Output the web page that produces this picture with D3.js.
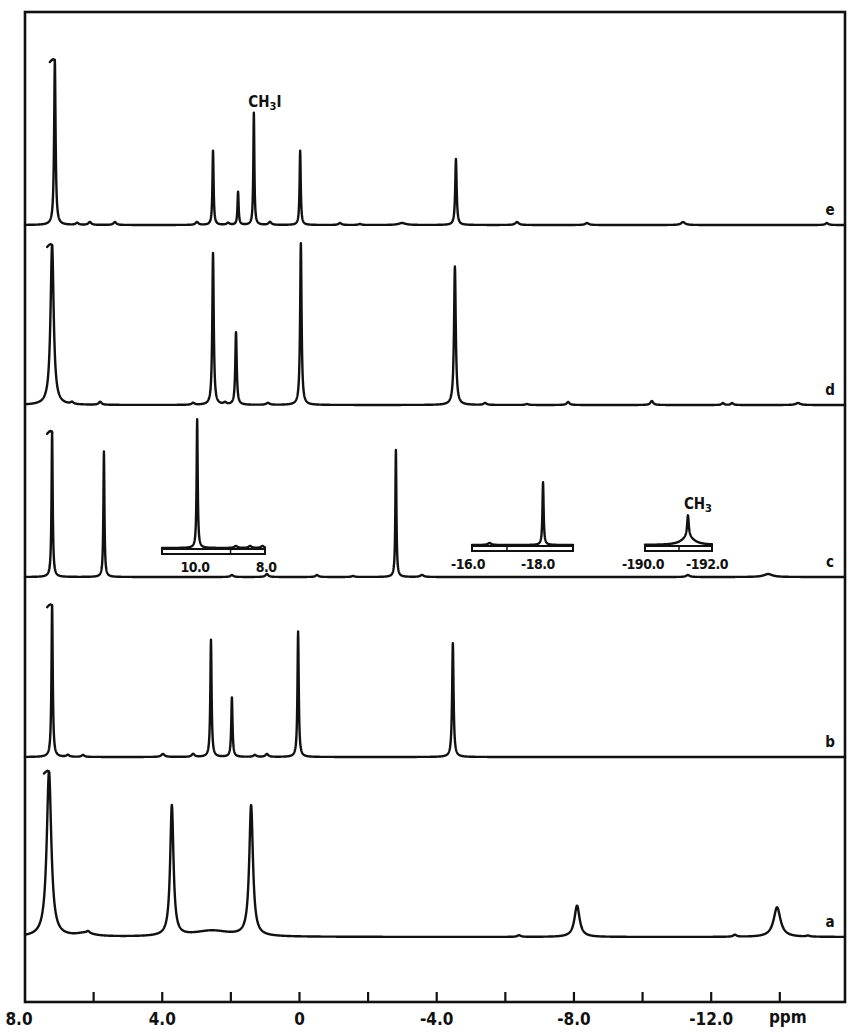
<!DOCTYPE html>
<html>
<head>
<meta charset="utf-8">
<title>NMR spectra a-e</title>
<script src="https://d3js.org/d3.v7.min.js"></script>
<style>
  body { margin: 0; background: #fff; }
  svg { display: block; }
  .trace { fill: none; stroke: #111; stroke-width: 2.4px; stroke-linejoin: round; stroke-linecap: round; }
  .frame { fill: none; stroke: #111; stroke-width: 2.6px; }
  .tick { stroke: #111; stroke-width: 2.2px; }
  .inset-box { fill: #fff; stroke: #111; stroke-width: 2px; }
  .lbl { font-family: "DejaVu Sans Condensed", "DejaVu Sans", sans-serif; font-weight: bold; fill: #111; }
</style>
</head>
<body>
<div id="chart"></div>
<script>
// peaks: [shift (ppm), relative height, half width (ppm), off-scale?]
const traceNames = ["e", "d", "c", "b", "a"];

const peaksE = [
  [7.13, 100, 0.025, 1], [2.52, 45, 0.02], [1.79, 20, 0.02], [1.33, 68, 0.018],
  [-0.02, 45, 0.02], [-4.56, 40, 0.025],
  [6.48, 1.2, 0.05], [6.11, 1.8, 0.05], [5.38, 1.8, 0.05], [2.99, 1.8, 0.05], [2.08, 1.2, 0.05],
  [0.86, 1.8, 0.05], [-1.18, 1.2, 0.05], [-1.76, 0.6, 0.05], [-2.99, 1.2, 0.12], [-6.34, 1.8, 0.06],
  [-8.38, 1.2, 0.06], [-11.18, 1.8, 0.07], [-15.37, 1.2, 0.05]
];
const peaksD = [
  [7.21, 97, 0.055, 1], [2.52, 92, 0.025], [1.85, 44, 0.025], [-0.04, 98, 0.025], [-4.53, 84, 0.03],
  [6.63, 1.2, 0.05], [5.81, 1.8, 0.05], [3.10, 1.2, 0.05], [2.17, 1.2, 0.05], [0.92, 1.2, 0.06],
  [-5.41, 1.2, 0.05], [-6.63, 0.6, 0.05], [-7.83, 1.8, 0.05], [-10.27, 2.4, 0.05], [-12.34, 1.2, 0.04],
  [-12.61, 1.2, 0.04], [-14.53, 1.2, 0.08]
];
const peaksC = [
  [7.21, 88, 0.02, 1], [5.70, 76, 0.018], [-2.81, 77, 0.018],
  [1.97, 1.2, 0.05], [0.95, 1.8, 0.05], [-0.51, 1.2, 0.05], [-1.56, 0.6, 0.05], [-3.57, 1.2, 0.06],
  [-11.32, 1.2, 0.06], [-13.66, 1.8, 0.15]
];
const peaksB = [
  [7.21, 92, 0.022, 1], [2.58, 71, 0.022], [1.97, 36, 0.022], [0.04, 76, 0.022], [-4.47, 69, 0.025],
  [6.75, 1.2, 0.05], [6.31, 1.2, 0.05], [3.98, 1.8, 0.06], [3.10, 1.8, 0.05], [1.30, 1.2, 0.05],
  [0.95, 1.8, 0.05]
];
const peaksA = [
  [7.30, 100, 0.08, 1], [3.72, 79, 0.058], [1.41, 79, 0.065], [-8.09, 19, 0.09], [-13.92, 18, 0.12],
  [6.25, 2.0, 0.3], [6.16, 1.2, 0.05], [2.55, 3.6, 0.65], [-6.4, 1.0, 0.06], [-12.69, 1.2, 0.06],
  [-14.82, 0.6, 0.06]
];
const tracePeaks = [peaksE, peaksD, peaksC, peaksB, peaksA];

// insets on trace c
const insetDomains = [[10.93, 8.03], [-16.0, -18.886], [-189.94, -192.03]];
const insetPeaks = [
  [[9.94, 78, 0.018], [8.85, 1.2, 0.05], [8.45, 1.2, 0.05], [8.1, 1.2, 0.05]],
  [[-18.03, 38, 0.02], [-16.5, 1.2, 0.06]],
  [[-191.28, 13, 0.03], [-191.28, 5, 0.22]]
];
const insetDividers = [9.0, -17.0, -191.0];
const insetTicks = [[[10, "10.0"], [8, "8.0"]], [[-16, "-16.0"], [-18, "-18.0"]], [[-190, "-190.0"], [-192, "-192.0"]]];
const insetNotes = [null, null, [-191.28, "CH", "3", ""]];

const peakNotes = [[0, 1.33, "CH", "3", "I"]];   // trace index, shift, label parts

const axisTicks = [6, 4, 2, 0, -2, -4, -6, -8, -10, -12, -14];
const axisLabels = [[8, "8.0"], [4, "4.0"], [0, "0"], [-4, "-4.0"], [-8, "-8.0"], [-12, "-12.0"]];
const axisUnit = "ppm";

// ---- layout ----
const W = 850, H = 1032;
const frame = { left: 25, right: 845, top: 12, bottom: 1002 };
const baseY = [225, 405, 577, 757, 937];
const insetBox = [[162, 265, 549], [472, 573, 546], [645, 712, 546]];

const x = d3.scaleLinear().domain([8.0, -15.9]).range([frame.left, frame.right]);
const amp = d3.scaleLinear().domain([0, 100]).range([0, 165]);

function intensity(peaks, v) {
  let y = 0;
  for (const [c, h, w] of peaks) y += h * w * w / ((v - c) * (v - c) + w * w);
  return y;
}

function spectrum(peaks, domain, step) {
  const [a, b] = domain;
  const vals = d3.range(a, b, -step).concat(peaks.map(p => p[0]).filter(v => v <= a && v >= b), [b]);
  vals.sort((p, q) => q - p);
  return vals.map(v => [v, intensity(peaks, v)]);
}

const svg = d3.select("#chart").append("svg")
  .attr("width", W).attr("height", H);

svg.append("rect").attr("class", "frame")
  .attr("x", frame.left).attr("y", frame.top)
  .attr("width", frame.right - frame.left).attr("height", frame.bottom - frame.top);

// ticks pointing up from the bottom edge
svg.selectAll(".tick").data(axisTicks).join("line")
  .attr("class", "tick")
  .attr("x1", d => x(d)).attr("x2", d => x(d))
  .attr("y1", frame.bottom).attr("y2", frame.bottom - 10);

svg.selectAll(".axlbl").data(axisLabels).join("text")
  .attr("class", "lbl axlbl")
  .attr("x", d => d[0] === 8 ? x(d[0]) - 6 : x(d[0]))
  .attr("y", frame.bottom + 23)
  .attr("text-anchor", "middle")
  .style("font-size", "17px")
  .text(d => d[1]);

svg.append("text").attr("class", "lbl")
  .attr("x", x(-14) + 8).attr("y", frame.bottom + 21)
  .attr("text-anchor", "middle")
  .style("font-size", "17px")
  .text(axisUnit);

// traces
tracePeaks.forEach((peaks, i) => {
  const line = d3.line().x(d => x(d[0])).y(d => baseY[i] - amp(d[1]));
  svg.append("path").attr("class", "trace").attr("d", line(spectrum(peaks, x.domain(), 0.005)));

  // little pen hook on top of the off-scale solvent line
  peaks.filter(p => p[3]).forEach(p => {
    const px = x(p[0]), py = baseY[i] - amp(intensity(peaks, p[0]));
    svg.append("path").attr("class", "trace")
      .attr("d", `M${px},${py + 1} Q${px - 1},${py - 3} ${px - 5},${py + 2}`);
  });

  svg.append("text").attr("class", "lbl")
    .attr("x", 830).attr("y", baseY[i] - 10)
    .attr("text-anchor", "middle")
    .style("font-size", "15px")
    .text(traceNames[i]);
});

function chemLabel(cx, cy, parts, size) {
  const t = svg.append("text").attr("class", "lbl")
    .attr("x", cx).attr("y", cy).attr("text-anchor", "middle")
    .style("font-size", size + "px");
  t.append("tspan").text(parts[0]);
  t.append("tspan").attr("dy", 3).style("font-size", (size - 4) + "px").text(parts[1]);
  if (parts[2]) t.append("tspan").attr("dy", -3).text(parts[2]);
}

peakNotes.forEach(([ti, v, a, b, c]) => {
  const top = intensity(tracePeaks[ti], v);
  chemLabel(x(v) + 11, baseY[ti] - amp(top) - 6, [a, b, c], 15);
});

// insets over trace c
insetDomains.forEach((dom, k) => {
  const [x0, x1, yTop] = insetBox[k];
  const xi = d3.scaleLinear().domain(dom).range([x0, x1]);
  svg.append("rect").attr("class", "inset-box")
    .attr("x", x0).attr("y", yTop).attr("width", x1 - x0).attr("height", 5);
  svg.append("line").attr("class", "tick")
    .attr("x1", xi(insetDividers[k])).attr("x2", xi(insetDividers[k]))
    .attr("y1", yTop).attr("y2", yTop + 5).style("stroke-width", "1.5px");

  const pts = spectrum(insetPeaks[k], dom, 0.005);
  const line = d3.line().x(d => xi(d[0])).y(d => yTop - 1 - amp(d[1]));
  svg.append("path").attr("class", "trace").attr("d", line(pts));

  svg.selectAll(null).data(insetTicks[k]).join("text")
    .attr("class", "lbl")
    .attr("x", d => xi(d[0]) - (d[0] < 0 ? 4 : 0))
    .attr("y", yTop + 23)
    .attr("text-anchor", "middle")
    .style("font-size", "14px")
    .style("letter-spacing", "-0.5px")
    .text(d => d[1]);

  const note = insetNotes[k];
  if (note) {
    const top = intensity(insetPeaks[k], note[0]);
    chemLabel(xi(note[0]) + 10, yTop - 1 - amp(top) - 6, [note[1], note[2], note[3]], 15);
  }
});
</script>
</body>
</html>
